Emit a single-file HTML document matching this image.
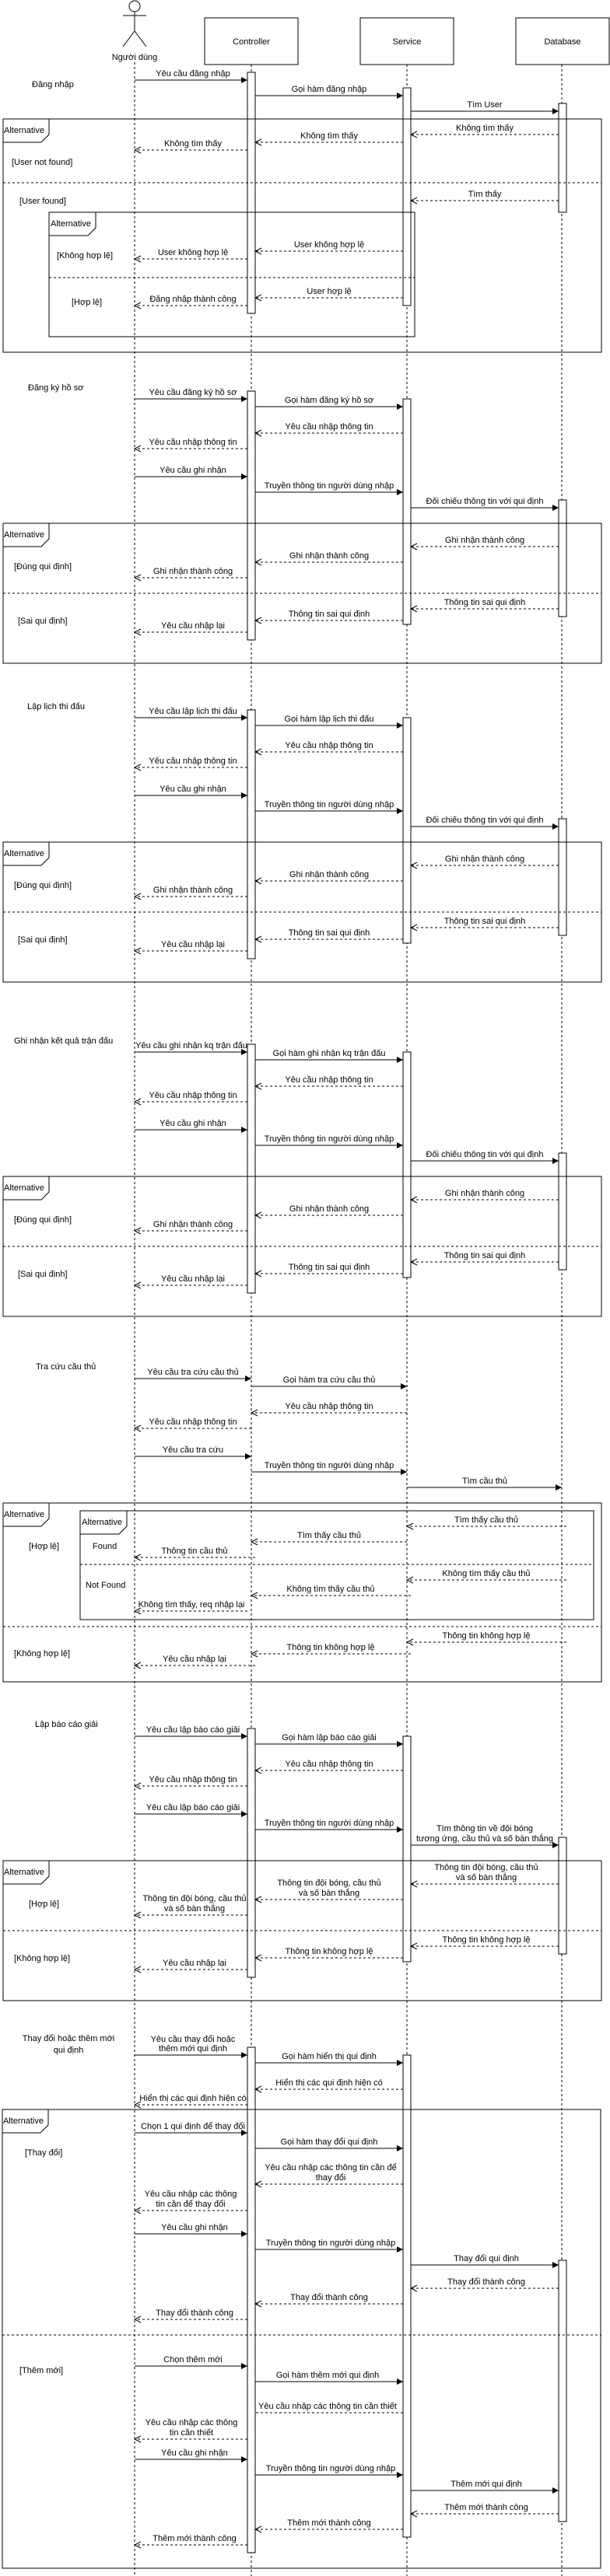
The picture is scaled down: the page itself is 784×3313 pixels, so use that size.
<!DOCTYPE html>
<html><head><meta charset="utf-8">
<style>
html,body{margin:0;padding:0;background:#fff;}
svg{display:block;}
text{font-family:"Liberation Sans",Arial,sans-serif;font-size:11px;fill:#000;}
.ll{stroke:#000;stroke-width:1;stroke-dasharray:3,3;fill:none;}
.s{stroke:#000;stroke-width:1;marker-end:url(#f);}
.r{stroke:#000;stroke-width:1;stroke-dasharray:3,3;marker-end:url(#o);}
.rn{stroke:#000;stroke-width:1;stroke-dasharray:3,3;}
.bar{fill:#fff;stroke:#000;stroke-width:1;}
.fr{fill:none;stroke:#000;stroke-width:1;}
.sep{stroke:#000;stroke-width:1;stroke-dasharray:3,3;}
.m{text-anchor:middle;}
</style></head><body>
<svg width="784" height="3313" viewBox="0 0 784 3313" xmlns="http://www.w3.org/2000/svg">
<defs>
<marker id="f" markerWidth="8" markerHeight="8" refX="8" refY="4" orient="auto" markerUnits="userSpaceOnUse"><path d="M0,0 L8,4 L0,8 z" fill="#000"/></marker>
<marker id="o" markerWidth="10" markerHeight="10" refX="9" refY="5" orient="auto" markerUnits="userSpaceOnUse"><path d="M1,1 L9,5 L1,9" fill="none" stroke="#000" stroke-width="1"/></marker>
</defs>
<rect width="784" height="3313" fill="#fff"/>

<!-- Header -->
<circle cx="173" cy="8" r="7" fill="#fff" stroke="#000"/>
<line x1="173" y1="15" x2="173" y2="40" stroke="#000"/>
<line x1="158" y1="20" x2="188" y2="20" stroke="#000"/>
<line x1="173" y1="40" x2="158" y2="60" stroke="#000"/>
<line x1="173" y1="40" x2="188" y2="60" stroke="#000"/>
<text x="173" y="77" class="m">Người dùng</text>
<rect x="263" y="23" width="120" height="60" class="bar"/><text x="323" y="57" class="m">Controller</text>
<rect x="463" y="23" width="120" height="60" class="bar"/><text x="523" y="57" class="m">Service</text>
<rect x="663" y="23" width="120" height="60" class="bar"/><text x="723" y="57" class="m">Database</text>

<line x1="173" y1="80" x2="173" y2="3313" class="ll"/>
<line x1="323" y1="83" x2="323" y2="3313" class="ll"/>
<line x1="523" y1="83" x2="523" y2="3313" class="ll"/>
<line x1="722" y1="83" x2="722" y2="3313" class="ll"/>

<!-- ===== Section 1: Đăng nhập ===== -->
<text x="41" y="112">Đăng nhập</text>
<rect x="318" y="93" width="10" height="310" class="bar"/>
<rect x="518" y="113" width="10" height="280" class="bar"/>
<rect x="718" y="133" width="10" height="140" class="bar"/>
<line x1="173" y1="103" x2="318" y2="103" class="s"/><text x="248" y="98" class="m">Yêu cầu đăng nhập</text>
<line x1="328" y1="123" x2="518" y2="123" class="s"/><text x="423" y="118" class="m">Gọi hàm đăng nhập</text>
<line x1="528" y1="143" x2="718" y2="143" class="s"/><text x="623" y="138" class="m">Tìm User</text>
<rect x="4" y="153" width="769" height="300" class="fr"/>
<path d="M4,153 L63,153 L63,173 L53,183 L4,183" class="fr"/><text x="5" y="171">Alternative</text>
<line x1="718" y1="173" x2="528" y2="173" class="r"/><text x="623" y="168" class="m">Không tìm thấy</text>
<line x1="518" y1="183" x2="328" y2="183" class="r"/><text x="423" y="178" class="m">Không tìm thấy</text>
<line x1="318" y1="193" x2="173" y2="193" class="r"/><text x="248" y="188" class="m">Không tìm thấy</text>
<text x="15" y="212">[User not found]</text>
<line x1="4" y1="235" x2="773" y2="235" class="sep"/>
<line x1="718" y1="258" x2="528" y2="258" class="r"/><text x="623" y="253" class="m">Tìm thấy</text>
<text x="25" y="262">[User found]</text>
<rect x="63" y="273" width="470" height="160" class="fr"/>
<path d="M63,273 L123,273 L123,293 L113,303 L63,303" class="fr"/><text x="65" y="291">Alternative</text>
<line x1="518" y1="323" x2="328" y2="323" class="r"/><text x="423" y="318" class="m">User không hợp lệ</text>
<line x1="318" y1="333" x2="173" y2="333" class="r"/><text x="248" y="328" class="m">User không hợp lệ</text>
<text x="73" y="332">[Không hợp lệ]</text>
<line x1="63" y1="357" x2="533" y2="357" class="sep"/>
<line x1="518" y1="383" x2="328" y2="383" class="r"/><text x="423" y="378" class="m">User hợp lệ</text>
<line x1="318" y1="393" x2="173" y2="393" class="r"/><text x="248" y="388" class="m">Đăng nhập thành công</text>
<text x="92" y="392">[Hợp lệ]</text>

<!-- ===== Section 2: Đăng ký hồ sơ (M=513) ===== -->
<text x="36" y="502">Đăng ký hồ sơ</text>
<rect x="318" y="503" width="10" height="320" class="bar"/>
<rect x="518" y="513" width="10" height="290" class="bar"/>
<rect x="718" y="643" width="10" height="150" class="bar"/>
<line x1="173" y1="513" x2="318" y2="513" class="s"/><text x="248" y="508" class="m">Yêu cầu đăng ký hồ sơ</text>
<line x1="328" y1="523" x2="518" y2="523" class="s"/><text x="423" y="518" class="m">Gọi hàm đăng ký hồ sơ</text>
<line x1="518" y1="557" x2="328" y2="557" class="r"/><text x="423" y="552" class="m">Yêu cầu nhập thông tin</text>
<line x1="318" y1="577" x2="173" y2="577" class="r"/><text x="248" y="572" class="m">Yêu cầu nhập thông tin</text>
<line x1="173" y1="613" x2="318" y2="613" class="s"/><text x="248" y="608" class="m">Yêu cầu ghi nhận</text>
<line x1="328" y1="633" x2="518" y2="633" class="s"/><text x="423" y="628" class="m">Truyền thông tin người dùng nhập</text>
<line x1="528" y1="653" x2="718" y2="653" class="s"/><text x="623" y="648" class="m">Đối chiếu thông tin với qui định</text>
<rect x="4" y="673" width="769" height="180" class="fr"/>
<path d="M4,673 L63,673 L63,693 L53,703 L4,703" class="fr"/><text x="5" y="691">Alternative</text>
<line x1="718" y1="703" x2="528" y2="703" class="r"/><text x="623" y="698" class="m">Ghi nhận thành công</text>
<line x1="518" y1="723" x2="328" y2="723" class="r"/><text x="423" y="718" class="m">Ghi nhận thành công</text>
<line x1="318" y1="743" x2="173" y2="743" class="r"/><text x="248" y="738" class="m">Ghi nhận thành công</text>
<text x="18" y="732">[Đúng qui định]</text>
<line x1="4" y1="763" x2="773" y2="763" class="sep"/>
<line x1="718" y1="783" x2="528" y2="783" class="r"/><text x="623" y="778" class="m">Thông tin sai qui định</text>
<line x1="518" y1="798" x2="328" y2="798" class="r"/><text x="423" y="793" class="m">Thông tin sai qui định</text>
<line x1="318" y1="813" x2="173" y2="813" class="r"/><text x="248" y="808" class="m">Yêu cầu nhập lại</text>
<text x="23" y="802">[Sai qui định]</text>

<!-- ===== Section 3: Lập lịch thi đấu (M=923) ===== -->
<text x="35" y="912">Lập lịch thi đấu</text>
<rect x="318" y="913" width="10" height="320" class="bar"/>
<rect x="518" y="923" width="10" height="290" class="bar"/>
<rect x="718" y="1053" width="10" height="150" class="bar"/>
<line x1="173" y1="923" x2="318" y2="923" class="s"/><text x="248" y="918" class="m">Yêu cầu lập lịch thi đấu</text>
<line x1="328" y1="933" x2="518" y2="933" class="s"/><text x="423" y="928" class="m">Gọi hàm lập lịch thi đấu</text>
<line x1="518" y1="967" x2="328" y2="967" class="r"/><text x="423" y="962" class="m">Yêu cầu nhập thông tin</text>
<line x1="318" y1="987" x2="173" y2="987" class="r"/><text x="248" y="982" class="m">Yêu cầu nhập thông tin</text>
<line x1="173" y1="1023" x2="318" y2="1023" class="s"/><text x="248" y="1018" class="m">Yêu cầu ghi nhận</text>
<line x1="328" y1="1043" x2="518" y2="1043" class="s"/><text x="423" y="1038" class="m">Truyền thông tin người dùng nhập</text>
<line x1="528" y1="1063" x2="718" y2="1063" class="s"/><text x="623" y="1058" class="m">Đối chiếu thông tin với qui định</text>
<rect x="4" y="1083" width="769" height="180" class="fr"/>
<path d="M4,1083 L63,1083 L63,1103 L53,1113 L4,1113" class="fr"/><text x="5" y="1101">Alternative</text>
<line x1="718" y1="1113" x2="528" y2="1113" class="r"/><text x="623" y="1108" class="m">Ghi nhận thành công</text>
<line x1="518" y1="1133" x2="328" y2="1133" class="r"/><text x="423" y="1128" class="m">Ghi nhận thành công</text>
<line x1="318" y1="1153" x2="173" y2="1153" class="r"/><text x="248" y="1148" class="m">Ghi nhận thành công</text>
<text x="18" y="1142">[Đúng qui định]</text>
<line x1="4" y1="1173" x2="773" y2="1173" class="sep"/>
<line x1="718" y1="1193" x2="528" y2="1193" class="r"/><text x="623" y="1188" class="m">Thông tin sai qui định</text>
<line x1="518" y1="1208" x2="328" y2="1208" class="r"/><text x="423" y="1203" class="m">Thông tin sai qui định</text>
<line x1="318" y1="1223" x2="173" y2="1223" class="r"/><text x="248" y="1218" class="m">Yêu cầu nhập lại</text>
<text x="23" y="1212">[Sai qui định]</text>

<!-- ===== Section 4: Ghi nhận kết quả trận đấu (M=1353) ===== -->
<text x="18" y="1342">Ghi nhận kết quả trận đấu</text>
<rect x="318" y="1343" width="10" height="320" class="bar"/>
<rect x="518" y="1353" width="10" height="290" class="bar"/>
<rect x="718" y="1483" width="10" height="150" class="bar"/>
<line x1="173" y1="1353" x2="318" y2="1353" class="s"/><text x="246" y="1348" class="m">Yêu cầu ghi nhận kq trận đấu</text>
<line x1="328" y1="1363" x2="518" y2="1363" class="s"/><text x="423" y="1358" class="m">Gọi hàm ghi nhận kq trận đấu</text>
<line x1="518" y1="1397" x2="328" y2="1397" class="r"/><text x="423" y="1392" class="m">Yêu cầu nhập thông tin</text>
<line x1="318" y1="1417" x2="173" y2="1417" class="r"/><text x="248" y="1412" class="m">Yêu cầu nhập thông tin</text>
<line x1="173" y1="1453" x2="318" y2="1453" class="s"/><text x="248" y="1448" class="m">Yêu cầu ghi nhận</text>
<line x1="328" y1="1473" x2="518" y2="1473" class="s"/><text x="423" y="1468" class="m">Truyền thông tin người dùng nhập</text>
<line x1="528" y1="1493" x2="718" y2="1493" class="s"/><text x="623" y="1488" class="m">Đối chiếu thông tin với qui định</text>
<rect x="4" y="1513" width="769" height="180" class="fr"/>
<path d="M4,1513 L63,1513 L63,1533 L53,1543 L4,1543" class="fr"/><text x="5" y="1531">Alternative</text>
<line x1="718" y1="1543" x2="528" y2="1543" class="r"/><text x="623" y="1538" class="m">Ghi nhận thành công</text>
<line x1="518" y1="1563" x2="328" y2="1563" class="r"/><text x="423" y="1558" class="m">Ghi nhận thành công</text>
<line x1="318" y1="1583" x2="173" y2="1583" class="r"/><text x="248" y="1578" class="m">Ghi nhận thành công</text>
<text x="18" y="1572">[Đúng qui định]</text>
<line x1="4" y1="1603" x2="773" y2="1603" class="sep"/>
<line x1="718" y1="1623" x2="528" y2="1623" class="r"/><text x="623" y="1618" class="m">Thông tin sai qui định</text>
<line x1="518" y1="1638" x2="328" y2="1638" class="r"/><text x="423" y="1633" class="m">Thông tin sai qui định</text>
<line x1="318" y1="1653" x2="173" y2="1653" class="r"/><text x="248" y="1648" class="m">Yêu cầu nhập lại</text>
<text x="23" y="1642">[Sai qui định]</text>

<!-- ===== Section 5: Tra cứu cầu thủ ===== -->
<text x="46" y="1761">Tra cứu cầu thủ</text>
<line x1="173" y1="1773" x2="323" y2="1773" class="s"/><text x="248" y="1768" class="m">Yêu cầu tra cứu cầu thủ</text>
<line x1="323" y1="1783" x2="523" y2="1783" class="s"/><text x="423" y="1778" class="m">Gọi hàm tra cứu cầu thủ</text>
<line x1="523" y1="1817" x2="323" y2="1817" class="r"/><text x="423" y="1812" class="m">Yêu cầu nhập thông tin</text>
<line x1="323" y1="1837" x2="173" y2="1837" class="r"/><text x="248" y="1832" class="m">Yêu cầu nhập thông tin</text>
<line x1="173" y1="1873" x2="323" y2="1873" class="s"/><text x="248" y="1868" class="m">Yêu cầu tra cứu</text>
<line x1="323" y1="1893" x2="523" y2="1893" class="s"/><text x="423" y="1888" class="m">Truyền thông tin người dùng nhập</text>
<line x1="523" y1="1913" x2="722" y2="1913" class="s"/><text x="623" y="1908" class="m">Tìm cầu thủ</text>
<rect x="4" y="1933" width="769" height="230" class="fr"/>
<path d="M4,1933 L63,1933 L63,1953 L53,1963 L4,1963" class="fr"/><text x="5" y="1951">Alternative</text>
<rect x="103" y="1943" width="660" height="140" class="fr"/>
<path d="M103,1943 L163,1943 L163,1963 L153,1973 L103,1973" class="fr"/><text x="105" y="1961">Alternative</text>
<text x="37" y="1992">[Hợp lệ]</text>
<text x="119" y="1992">Found</text>
<line x1="728" y1="1963" x2="523" y2="1963" class="r"/><text x="625" y="1958" class="m">Tìm thấy cầu thủ</text>
<line x1="523" y1="1983" x2="323" y2="1983" class="r"/><text x="423" y="1978" class="m">Tìm thấy cầu thủ</text>
<line x1="328" y1="2003" x2="173" y2="2003" class="r"/><text x="250" y="1998" class="m">Thông tin cầu thủ</text>
<line x1="103" y1="2012" x2="763" y2="2012" class="sep"/>
<text x="110" y="2042">Not Found</text>
<line x1="728" y1="2032" x2="523" y2="2032" class="r"/><text x="625" y="2027" class="m">Không tìm thấy cầu thủ</text>
<line x1="528" y1="2052" x2="323" y2="2052" class="r"/><text x="425" y="2047" class="m">Không tìm thấy cầu thủ</text>
<line x1="318" y1="2072" x2="173" y2="2072" class="r"/><text x="246" y="2067" class="m">Không tìm thấy, req nhập lại</text>
<line x1="4" y1="2092" x2="773" y2="2092" class="sep"/>
<line x1="728" y1="2112" x2="523" y2="2112" class="r"/><text x="625" y="2107" class="m">Thông tin không hợp lệ</text>
<line x1="528" y1="2127" x2="323" y2="2127" class="r"/><text x="425" y="2122" class="m">Thông tin không hợp lệ</text>
<line x1="328" y1="2142" x2="173" y2="2142" class="r"/><text x="250" y="2137" class="m">Yêu cầu nhập lại</text>
<text x="18" y="2130">[Không hợp lệ]</text>

<!-- ===== Section 6: Lập báo cáo giải (M=2233) ===== -->
<text x="45" y="2221">Lập báo cáo giải</text>
<rect x="318" y="2223" width="10" height="320" class="bar"/>
<rect x="518" y="2233" width="10" height="290" class="bar"/>
<rect x="718" y="2363" width="10" height="150" class="bar"/>
<line x1="173" y1="2233" x2="318" y2="2233" class="s"/><text x="248" y="2228" class="m">Yêu cầu lập báo cáo giải</text>
<line x1="328" y1="2243" x2="518" y2="2243" class="s"/><text x="423" y="2238" class="m">Gọi hàm lập báo cáo giải</text>
<line x1="518" y1="2277" x2="328" y2="2277" class="r"/><text x="423" y="2272" class="m">Yêu cầu nhập thông tin</text>
<line x1="318" y1="2297" x2="173" y2="2297" class="r"/><text x="248" y="2292" class="m">Yêu cầu nhập thông tin</text>
<line x1="173" y1="2333" x2="318" y2="2333" class="s"/><text x="248" y="2328" class="m">Yêu cầu lập báo cáo giải</text>
<line x1="328" y1="2353" x2="518" y2="2353" class="s"/><text x="423" y="2348" class="m">Truyền thông tin người dùng nhập</text>
<line x1="528" y1="2373" x2="718" y2="2373" class="s"/><text x="623" y="2355" class="m">Tìm thông tin về đội bóng</text><text x="623" y="2368" class="m">tương ứng, cầu thủ và số bàn thắng</text>
<rect x="4" y="2393" width="769" height="180" class="fr"/>
<path d="M4,2393 L63,2393 L63,2413 L53,2423 L4,2423" class="fr"/><text x="5" y="2411">Alternative</text>
<line x1="718" y1="2423" x2="528" y2="2423" class="r"/><text x="625" y="2405" class="m">Thông tin đội bóng, cầu thủ</text><text x="625" y="2418" class="m">và số bàn thắng</text>
<line x1="518" y1="2443" x2="328" y2="2443" class="r"/><text x="423" y="2425" class="m">Thông tin đội bóng, cầu thủ</text><text x="423" y="2438" class="m">và số bàn thắng</text>
<line x1="318" y1="2463" x2="173" y2="2463" class="r"/><text x="250" y="2445" class="m">Thông tin đội bóng, cầu thủ</text><text x="250" y="2458" class="m">và số bàn thắng</text>
<text x="37" y="2452">[Hợp lệ]</text>
<line x1="4" y1="2483" x2="773" y2="2483" class="sep"/>
<line x1="718" y1="2503" x2="528" y2="2503" class="r"/><text x="625" y="2498" class="m">Thông tin không hợp lệ</text>
<line x1="518" y1="2518" x2="328" y2="2518" class="r"/><text x="423" y="2513" class="m">Thông tin không hợp lệ</text>
<line x1="318" y1="2533" x2="173" y2="2533" class="r"/><text x="250" y="2528" class="m">Yêu cầu nhập lại</text>
<text x="18" y="2522">[Không hợp lệ]</text>

<!-- ===== Section 7: Thay đổi hoặc thêm mới qui định ===== -->
<text x="88" y="2625" class="m">Thay đổi hoặc thêm mới</text>
<text x="88" y="2640" class="m">qui định</text>
<rect x="318" y="2633" width="10" height="650" class="bar"/>
<rect x="518" y="2643" width="10" height="620" class="bar"/>
<rect x="718" y="2907" width="10" height="336" class="bar"/>
<line x1="173" y1="2643" x2="318" y2="2643" class="s"/><text x="248" y="2626" class="m">Yêu cầu thay đổi hoặc</text><text x="248" y="2638" class="m">thêm mới qui định</text>
<line x1="328" y1="2653" x2="518" y2="2653" class="s"/><text x="423" y="2648" class="m">Gọi hàm hiển thị qui định</text>
<line x1="518" y1="2687" x2="328" y2="2687" class="r"/><text x="423" y="2682" class="m">Hiển thị các qui định hiện có</text>
<line x1="318" y1="2707" x2="173" y2="2707" class="r"/><text x="248" y="2702" class="m">Hiển thị các qui định hiện có</text>
<rect x="3" y="2713" width="769" height="590" class="fr"/>
<path d="M3,2713 L62,2713 L62,2733 L52,2743 L3,2743" class="fr"/><text x="4" y="2731">Alternative</text>
<line x1="173" y1="2743" x2="318" y2="2743" class="s"/><text x="248" y="2738" class="m">Chọn 1 qui định để thay đổi</text>
<text x="32" y="2772">[Thay đổi]</text>
<line x1="328" y1="2763" x2="518" y2="2763" class="s"/><text x="423" y="2758" class="m">Gọi hàm thay đổi qui định</text>
<line x1="518" y1="2809" x2="328" y2="2809" class="r"/><text x="425" y="2791" class="m">Yêu cầu nhập các thông tin cần để</text><text x="425" y="2804" class="m">thay đổi</text>
<line x1="318" y1="2843" x2="173" y2="2843" class="r"/><text x="245" y="2825" class="m">Yêu cầu nhập các thông</text><text x="245" y="2838" class="m">tin cần để thay đổi</text>
<line x1="173" y1="2873" x2="318" y2="2873" class="s"/><text x="250" y="2868" class="m">Yêu cầu ghi nhận</text>
<line x1="328" y1="2893" x2="518" y2="2893" class="s"/><text x="425" y="2888" class="m">Truyền thông tin người dùng nhập</text>
<line x1="528" y1="2913" x2="718" y2="2913" class="s"/><text x="625" y="2908" class="m">Thay đổi qui định</text>
<line x1="718" y1="2943" x2="528" y2="2943" class="r"/><text x="625" y="2938" class="m">Thay đổi thành công</text>
<line x1="518" y1="2963" x2="328" y2="2963" class="r"/><text x="423" y="2958" class="m">Thay đổi thành công</text>
<line x1="318" y1="2983" x2="173" y2="2983" class="r"/><text x="250" y="2978" class="m">Thay đổi thành công</text>
<line x1="3" y1="3003" x2="773" y2="3003" class="sep"/>
<text x="25" y="3052">[Thêm mới]</text>
<line x1="173" y1="3043" x2="318" y2="3043" class="s"/><text x="248" y="3038" class="m">Chọn thêm mới</text>
<line x1="328" y1="3063" x2="518" y2="3063" class="s"/><text x="421" y="3058" class="m">Gọi hàm thêm mới qui định</text>
<line x1="518" y1="3103" x2="328" y2="3103" class="rn"/><text x="421" y="3098" class="m">Yêu cầu nhập các thông tin cần thiết</text>
<line x1="318" y1="3137" x2="173" y2="3137" class="r"/><text x="246" y="3119" class="m">Yêu cầu nhập các thông</text><text x="246" y="3132" class="m">tin cần thiết</text>
<line x1="173" y1="3163" x2="318" y2="3163" class="s"/><text x="250" y="3158" class="m">Yêu cầu ghi nhận</text>
<line x1="328" y1="3183" x2="518" y2="3183" class="s"/><text x="425" y="3178" class="m">Truyền thông tin người dùng nhập</text>
<line x1="528" y1="3203" x2="718" y2="3203" class="s"/><text x="625" y="3198" class="m">Thêm mới qui định</text>
<line x1="718" y1="3233" x2="528" y2="3233" class="r"/><text x="625" y="3228" class="m">Thêm mới thành công</text>
<line x1="518" y1="3253" x2="328" y2="3253" class="r"/><text x="423" y="3248" class="m">Thêm mới thành công</text>
<line x1="318" y1="3273" x2="173" y2="3273" class="r"/><text x="250" y="3268" class="m">Thêm mới thành công</text>
</svg>
</body></html>
